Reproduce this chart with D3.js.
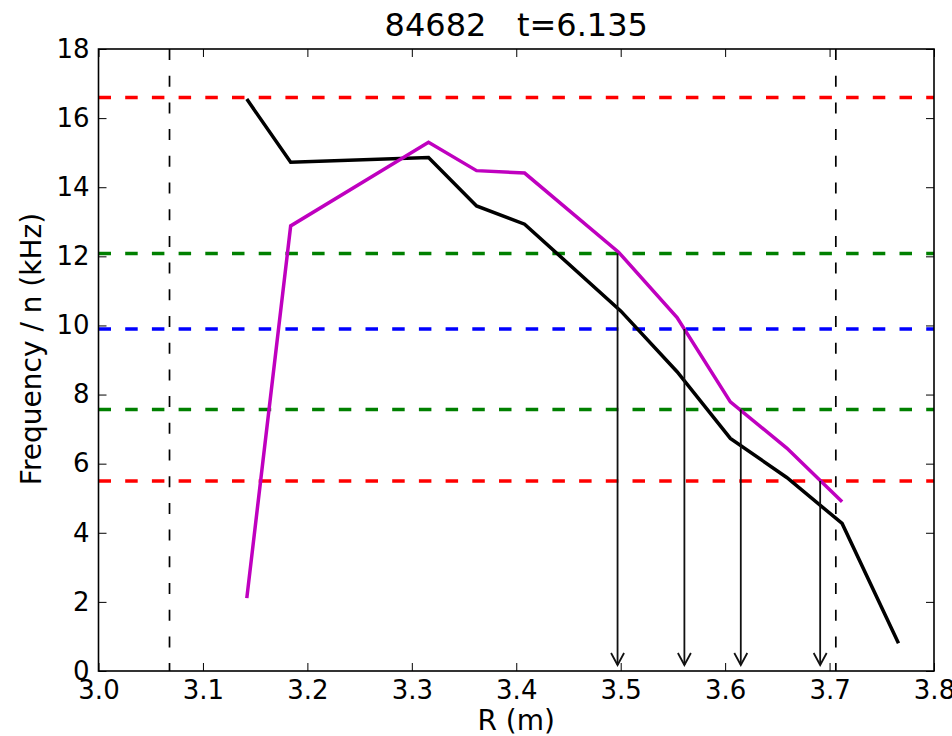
<!DOCTYPE html>
<html>
<head>
<meta charset="utf-8">
<script src="https://cdn.jsdelivr.net/npm/d3@7"></script>
<style>
  html, body { margin: 0; padding: 0; background: #fff; }
  svg { display: block; font-family: "DejaVu Sans", sans-serif; }
</style>
</head>
<body>
<svg id="chart" width="952" height="736"></svg>
<script>
// Major radius (m) and frequency / n (kHz) profiles
const blackR = [3.142, 3.184, 3.316, 3.362, 3.408, 3.500, 3.554, 3.605, 3.659, 3.712, 3.766];
const blackF = [16.55, 14.72, 14.86, 13.46, 12.93, 10.42, 8.66, 6.73, 5.60, 4.27, 0.80];

const magentaR = [3.142, 3.184, 3.316, 3.362, 3.408, 3.498, 3.554, 3.605, 3.659, 3.712];
const magentaF = [2.11, 12.88, 15.30, 14.48, 14.41, 12.12, 10.23, 7.79, 6.45, 4.90];

// Horizontal reference frequencies and their colours
const levelF = [16.6, 12.08, 9.9, 7.57, 5.5];
const levelColor = ["#ff0000", "#008000", "#0000ff", "#008000", "#ff0000"];

// Vertical reference radii
const boundaryR = [3.068, 3.706];

// Resonance arrows: radius and starting frequency
const arrowR = [3.497, 3.561, 3.615, 3.691];
const arrowF = [12.08, 9.9, 7.57, 5.5];

const xTicks = [3.0, 3.1, 3.2, 3.3, 3.4, 3.5, 3.6, 3.7, 3.8];
const yTicks = [0, 2, 4, 6, 8, 10, 12, 14, 16, 18];

const titleText = "84682\u00a0\u00a0\u00a0t=6.135";
const xLabel = "R (m)";
const yLabel = "Frequency / n (kHz)";

const svg = d3.select("#chart");
const plotL = 98.5, plotR = 934, plotT = 49, plotB = 671;

const x = d3.scaleLinear().domain([3.0, 3.8]).range([plotL, plotR]);
const y = d3.scaleLinear().domain([0, 18]).range([plotB, plotT]);

const tickFont = 26, labelFont = 28, titleFont = 32;

// Horizontal dashed levels
svg.append("g").selectAll("line").data(levelF).join("line")
  .attr("x1", plotL).attr("x2", plotR)
  .attr("y1", d => y(d)).attr("y2", d => y(d))
  .attr("stroke", (d, i) => levelColor[i])
  .attr("stroke-width", 3.5)
  .attr("stroke-dasharray", "12.5,14.2");

// Vertical dashed boundaries
svg.append("g").selectAll("line").data(boundaryR).join("line")
  .attr("x1", d => x(d)).attr("x2", d => x(d))
  .attr("y1", plotT).attr("y2", plotB)
  .attr("stroke", "#000")
  .attr("stroke-width", 1.7)
  .attr("stroke-dasharray", "11,15.7");

// Profiles
const line = d3.line().x(d => x(d[0])).y(d => y(d[1]));
svg.append("path")
  .attr("d", line(d3.zip(blackR, blackF)))
  .attr("fill", "none").attr("stroke", "#000").attr("stroke-width", 3.5)
  .attr("stroke-linejoin", "miter");
svg.append("path")
  .attr("d", line(d3.zip(magentaR, magentaF)))
  .attr("fill", "none").attr("stroke", "#bf00bf").attr("stroke-width", 3.5)
  .attr("stroke-linejoin", "miter");

// Arrows down to the axis
const arrows = svg.append("g").attr("stroke", "#111").attr("stroke-width", 1.8).attr("fill", "none");
arrowR.forEach((r, i) => {
  const ax = x(r), y0 = y(arrowF[i]), tip = y(0) - 6;
  arrows.append("line").attr("x1", ax).attr("x2", ax).attr("y1", y0).attr("y2", tip);
  arrows.append("path")
    .attr("d", `M${ax - 6.5},${tip - 12} L${ax},${tip} L${ax + 6.5},${tip - 12}`);
});

// Axes with inward ticks on all four sides
const fmtX = d3.format(".1f");
const gx = svg.append("g").attr("transform", `translate(0,${plotB})`)
  .call(d3.axisBottom(x).tickValues(xTicks).tickFormat(fmtX).tickSizeInner(-8).tickSizeOuter(0).tickPadding(10));
const gy = svg.append("g").attr("transform", `translate(${plotL},0)`)
  .call(d3.axisLeft(y).tickValues(yTicks).tickFormat(d3.format("d")).tickSizeInner(-8).tickSizeOuter(0).tickPadding(9));
const gxt = svg.append("g").attr("transform", `translate(0,${plotT})`)
  .call(d3.axisTop(x).tickValues(xTicks).tickFormat("").tickSizeInner(-8).tickSizeOuter(0));
const gyr = svg.append("g").attr("transform", `translate(${plotR},0)`)
  .call(d3.axisRight(y).tickValues(yTicks).tickFormat("").tickSizeInner(-8).tickSizeOuter(0));

[gx, gy, gxt, gyr].forEach(g => {
  g.select(".domain").remove();
  g.selectAll(".tick line").attr("stroke", "#000").attr("stroke-width", 1);
  g.selectAll(".tick text")
    .attr("fill", "#000")
    .style("font-family", "'DejaVu Sans', sans-serif")
    .style("font-size", tickFont + "px");
});

// Frame
svg.append("rect")
  .attr("x", plotL).attr("y", plotT)
  .attr("width", plotR - plotL).attr("height", plotB - plotT)
  .attr("fill", "none").attr("stroke", "#000").attr("stroke-width", 1.6);

// Title and axis labels
svg.append("text")
  .attr("x", (plotL + plotR) / 2).attr("y", 36)
  .attr("text-anchor", "middle")
  .style("font-size", titleFont + "px")
  .text(titleText);

svg.append("text")
  .attr("x", (plotL + plotR) / 2).attr("y", 730)
  .attr("text-anchor", "middle")
  .style("font-size", labelFont + "px")
  .text(xLabel);

svg.append("text")
  .attr("transform", `translate(41,349) rotate(-90)`)
  .attr("text-anchor", "middle")
  .style("font-size", labelFont + "px")
  .text(yLabel);
</script>
</body>
</html>
